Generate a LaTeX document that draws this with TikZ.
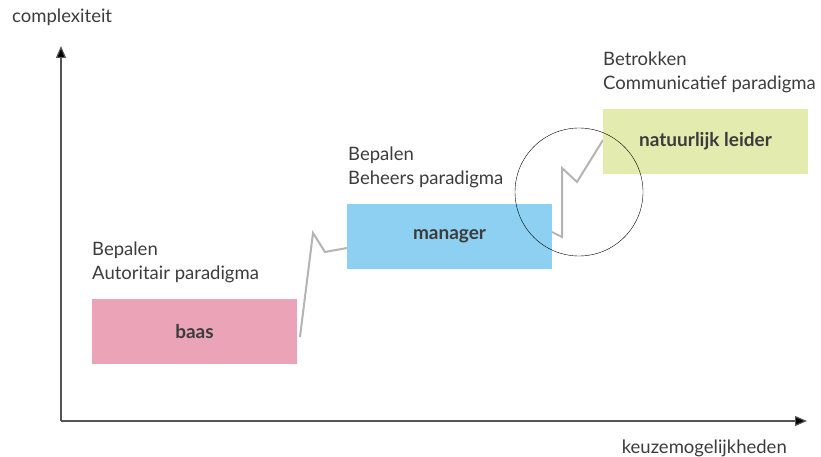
\documentclass[tikz,border=0pt]{standalone}
\usepackage{fontspec}
\setmainfont{Lato}
\usetikzlibrary{arrows.meta}

\definecolor{textgray}{HTML}{3C3C3C}
\definecolor{axisgray}{HTML}{555555}
\definecolor{linegray}{HTML}{B4B4B4}
\definecolor{baaspink}{HTML}{EBA4B7}
\definecolor{managerblue}{HTML}{8ED0F1}
\definecolor{leidergreen}{HTML}{E3EBAF}

\begin{document}
\begin{tikzpicture}[
    x = 1pt, y = -1pt,
    text = textgray,
    font = \fontsize{18.5}{24}\selectfont,
    axis/.style = {draw = axisgray,
      line width = 1.2pt,
      -{Triangle[length = 12pt, width = 10pt, fill = black]}},
    role/.style = {rectangle,
      minimum width = 205pt,
      minimum height = 65pt,
      inner sep = 0pt,
      font = \fontsize{19}{22}\selectfont\bfseries},
    caption/.style = {anchor = north west,
      align = left,
      inner sep = 0pt},
    zigzag/.style = {draw = linegray, line width = 2pt}
    ]

    \useasboundingbox (0, 0) rectangle (821, 457);

    % axes
    \coordinate (origin) at (61, 421);
    \coordinate (ytop) at (61, 46);
    \coordinate (xend) at (807, 421);
    \draw [axis] (origin) to (ytop);
    \draw [axis] (origin) to (xend);

    \node at (12, 23) [anchor = base west, inner sep = 0pt, name = ylabel] {complexiteit};
    \node at (787, 453) [anchor = base east, inner sep = 0pt, name = xlabel] {keuzemogelijkheden};

    % zigzag steps
    \coordinate (b1) at (313, 233);
    \coordinate (b2) at (325, 252);
    \coordinate (m1) at (562, 237);
    \coordinate (m2) at (562, 168);
    \coordinate (m3) at (577, 182);

    \draw [zigzag] (300, 337) -- (b1) -- (b2) -- (347, 248);
    \draw [zigzag] (552, 232) -- (m1) -- (m2) -- (m3) -- (603, 140);

    % boxes
    \node at (194.5, 331.5) [role, fill = baaspink, name = baas] {baas};
    \node at (449.5, 236.5) [role, fill = managerblue, name = manager] {manager};
    \node at (705.5, 141.5) [role, fill = leidergreen, name = leider] {natuurlijk leider};

    \node at (92, 242) [caption, name = autoritair] {Bepalen\\Autoritair paradigma};
    \node at (348, 147) [caption, name = beheers] {Bepalen\\Beheers paradigma};
    \node at (603, 52) [caption, name = communicatief] {Betrokken\\Communicatief paradigma};

    % focus circle
    \node at (579, 192) [circle, draw = black, thin, minimum size = 128pt, name = focus] {};
  \end{tikzpicture}
\end{document}
